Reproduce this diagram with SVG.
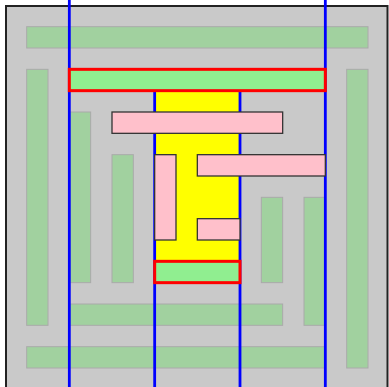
<svg xmlns="http://www.w3.org/2000/svg" width="389" height="387" viewBox="0 0 389 387">
<style>
.bg{fill:#c9c9c9;stroke:#222;stroke-width:2}
.fg{fill:#a1d19f;stroke:#aaa;stroke-width:1}
.hl{fill:#90ee90;stroke:#ff0000;stroke-width:3}
.pk{fill:#ffc0cb;stroke:#333;stroke-width:1.3}
.bl{stroke:#0000ff;stroke-width:2.8;fill:none}
</style>
<rect class="bg" x="6" y="6" width="381.5" height="400"/>
<g id="outer-ring">
<rect class="fg" x="26.67" y="26.67" width="341.33" height="21.33"/>
<rect class="fg" x="346.67" y="69.33" width="21.33" height="298.67"/>
<rect class="fg" x="26.67" y="346.67" width="298.67" height="21.33"/>
<rect class="fg" x="26.67" y="69.33" width="21.33" height="256"/>
</g>
<g id="middle-ring">
<rect class="fg" x="69.33" y="112" width="21.33" height="170.67"/>
<rect class="fg" x="69.33" y="304" width="213.33" height="21.33"/>
<rect class="fg" x="304" y="197.33" width="21.33" height="128"/>
</g>
<g id="inner-ring">
<rect class="fg" x="112" y="154.67" width="21.33" height="128"/>
<rect class="fg" x="261.33" y="197.33" width="21.33" height="85.33"/>
</g>
<g id="core">
<rect x="154.67" y="90.67" width="85.33" height="170.67" fill="#ffff00"/>
</g>
<g id="connectors">
<line class="bl" x1="69.33" y1="0" x2="69.33" y2="387"/>
<line class="bl" x1="325.33" y1="0" x2="325.33" y2="387"/>
<line class="bl" x1="154.67" y1="90.67" x2="154.67" y2="387"/>
<line class="bl" x1="240" y1="90.67" x2="240" y2="387"/>
</g>
<g id="top-bar">
<rect class="hl" x="69.33" y="69.33" width="256" height="21.33"/>
</g>
<g id="bottom-bar">
<rect class="hl" x="154.67" y="261.33" width="85.33" height="21.33"/>
</g>
<g id="pink-a"><rect class="pk" x="112" y="112" width="170.67" height="21.33"/></g>
<g id="pink-b"><rect class="pk" x="197.33" y="154.67" width="128" height="21.33"/></g>
<g id="pink-c"><rect class="pk" x="154.67" y="154.67" width="21.33" height="85.33"/></g>
<g id="pink-d"><rect class="pk" x="197.33" y="218.67" width="42.67" height="21.33"/></g>
</svg>
